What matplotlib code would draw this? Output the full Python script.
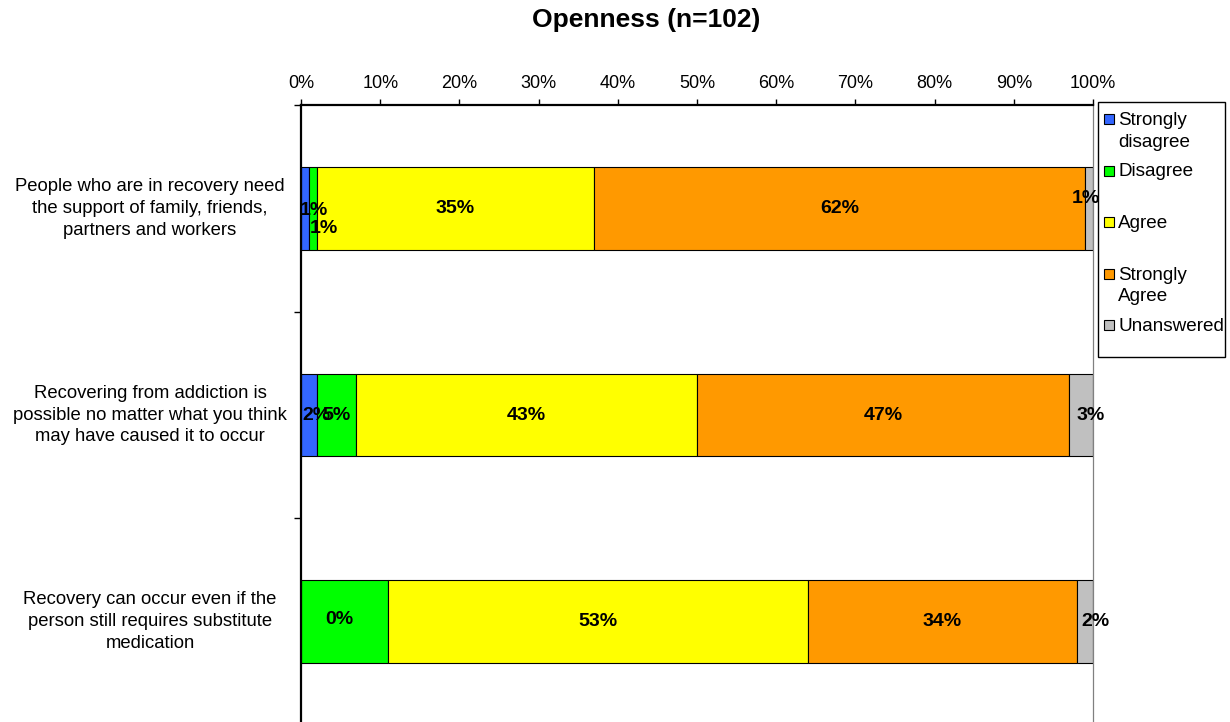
import matplotlib
matplotlib.use("Agg")
import matplotlib.pyplot as plt
from matplotlib.patches import Rectangle
from matplotlib.transforms import blended_transform_factory
from matplotlib.ticker import FuncFormatter

plt.rcParams['font.family'] = ['Liberation Sans', 'DejaVu Sans']

# ---- data -------------------------------------------------------------
title = "Openness (n=102)"
statements = [
    "People who are in recovery need\nthe support of family, friends,\npartners and workers",
    "Recovering from addiction is\npossible no matter what you think\nmay have caused it to occur",
    "Recovery can occur even if the\nperson still requires substitute\nmedication",
]
series_names = ["Strongly\ndisagree", "Disagree", "Agree", "Strongly\nAgree", "Unanswered"]
strongly_disagree = [1, 2, 0]
disagree = [1, 5, 11]
agree = [35, 43, 53]
strongly_agree = [62, 47, 34]
unanswered = [1, 3, 2]
x_ticks = list(range(0, 101, 10))

series_values = [strongly_disagree, disagree, agree, strongly_agree, unanswered]
colors = ["#3366FF", "#00FF00", "#FFFF00", "#FF9900", "#C0C0C0"]

# label nudges in pixels (row, series) -> (dx, dy); hidden labels
label_nudge = {
    (0, 0): (9, 2), (0, 1): (11, 20), (0, 4): (-3, -10),
    (1, 0): (8, 0), (1, 4): (10, 0),
    (2, 0): (38, -2), (2, 4): (10, 0),
}
hidden_labels = {(2, 1)}

# ---- figure -----------------------------------------------------------
W, H = 1230, 722
fig = plt.figure(figsize=(W / 100, H / 100), dpi=100)
fig.patch.set_facecolor("white")

ax = fig.add_axes([301 / W, 1 - 725 / H, 792 / W, 620 / H])
ax.set_xlim(0, 100)
ax.set_ylim(2.5, -0.5)

rows = list(range(len(statements)))
lefts = [0.0] * len(rows)
for si, vals in enumerate(series_values):
    ax.barh(rows, vals, left=lefts, height=0.4, color=colors[si],
            edgecolor="black", linewidth=0.8, zorder=2)
    for r, v in enumerate(vals):
        if (r, si) in hidden_labels:
            continue
        dx, dy = label_nudge.get((r, si), (0, 0))
        ax.annotate(f"{v:g}%", xy=(lefts[r] + v / 2, r),
                    xytext=(dx * 0.72, -dy * 0.72), textcoords="offset points",
                    ha="center", va="center", fontsize=14,
                    fontweight="bold", zorder=4, annotation_clip=False)
    lefts = [l + v for l, v in zip(lefts, vals)]

# top percentage axis
ax.xaxis.tick_top()
ax.set_xticks(x_ticks)
ax.xaxis.set_major_formatter(FuncFormatter(lambda x, _: f"{x:.0f}%"))
ax.tick_params(axis="x", length=4, width=1, pad=5, labelsize=13,
               direction="out", colors="black")

# category boundaries on the left axis
ax.set_yticks([-0.5, 0.5, 1.5, 2.5])
ax.set_yticklabels([])
ax.tick_params(axis="y", length=5, width=1, direction="out")

for side in ("top", "left"):
    ax.spines[side].set_linewidth(1.6)
    ax.spines[side].set_color("black")
ax.spines["right"].set_color("#808080")
ax.spines["right"].set_linewidth(0.9)
ax.spines["bottom"].set_visible(False)

# statement labels
trans = blended_transform_factory(fig.transFigure, ax.transData)
for r, text in enumerate(statements):
    ax.text(150 / W, r, text, transform=trans, ha="center", va="center",
            multialignment="center", fontsize=13.3, linespacing=1.36,
            clip_on=False)

fig.text(646 / W, 1 - 20 / H, title, ha="center", va="center",
         fontsize=19, fontweight="bold")

# legend box
def fx(x):
    return x / W


def fy(y):
    return 1 - y / H


fig.patches.append(Rectangle((fx(1098), fy(357)), 127 / W, 255 / H,
                             transform=fig.transFigure, fill=False,
                             edgecolor="black", linewidth=1))
entry_top = 119
entry_step = 51.5
for si, name in enumerate(series_names):
    yc = entry_top + si * entry_step
    fig.patches.append(Rectangle((fx(1104), fy(yc + 5)), 10 / W, 10 / H,
                                 transform=fig.transFigure,
                                 facecolor=colors[si], edgecolor="black",
                                 linewidth=0.8))
    fig.text(fx(1118), fy(yc - 7), name, ha="left", va="top",
             fontsize=13.6, linespacing=1.36)

fig.savefig("out.png", dpi=100, facecolor="white")
